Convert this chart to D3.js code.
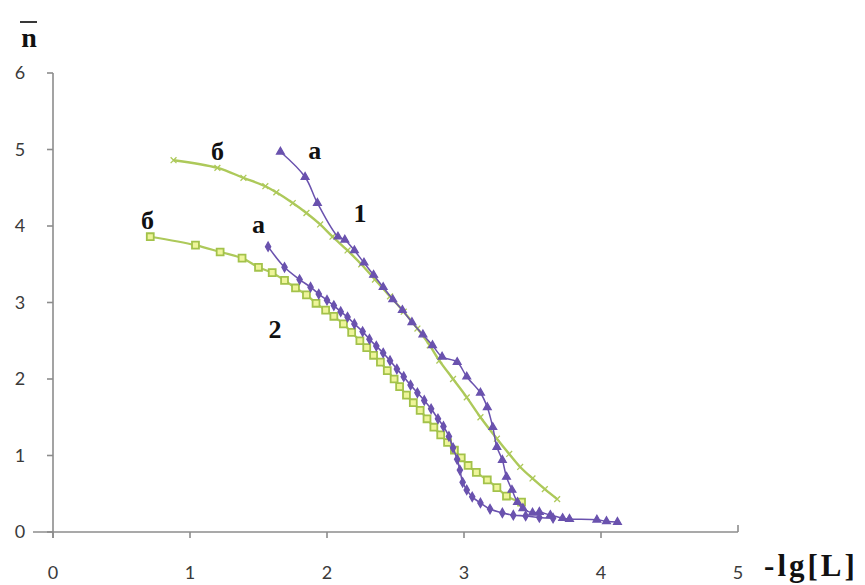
<!DOCTYPE html>
<html>
<head>
<meta charset="utf-8">
<script src="https://cdn.jsdelivr.net/npm/d3@7"></script>
<style>
  html, body { margin: 0; padding: 0; background: #fff; }
  .lbl { font-family: "Liberation Serif", "DejaVu Serif", serif; font-weight: bold; fill: #111; }
  .tk { font-family: Lato, "Open Sans", sans-serif; font-size: 18px; fill: #3a3a3a; }
</style>
</head>
<body>
<div id="graph"></div>
<script>
'use strict';

// curve 1, series a (purple, triangles)
var x1a = [1.66, 1.84, 1.93, 2.08, 2.13, 2.20, 2.27, 2.34, 2.41, 2.48, 2.55, 2.62, 2.70, 2.77, 2.84,
  2.95, 3.02, 3.12, 3.17, 3.21, 3.24, 3.28, 3.31, 3.35, 3.39, 3.43, 3.50, 3.55, 3.63, 3.72, 3.77, 3.97, 4.04, 4.12];
var y1a = [4.97, 4.64, 4.30, 3.86, 3.82, 3.68, 3.52, 3.36, 3.20, 3.04, 2.90, 2.74, 2.58, 2.44, 2.29,
  2.22, 2.03, 1.82, 1.63, 1.37, 1.11, 0.94, 0.72, 0.55, 0.39, 0.31, 0.25, 0.26, 0.22, 0.18, 0.17, 0.16, 0.14, 0.13];

// curve 1, series б (green, crosses)
var x1b = [0.88, 1.20, 1.39, 1.55, 1.63, 1.75, 1.85, 1.95, 2.04, 2.15, 2.25, 2.35, 2.46, 2.56, 2.66,
  2.75, 2.82, 2.92, 3.02, 3.12, 3.24, 3.33, 3.41, 3.50, 3.59, 3.68];
var y1b = [4.86, 4.76, 4.63, 4.52, 4.44, 4.30, 4.17, 4.02, 3.86, 3.68, 3.50, 3.30, 3.08, 2.88, 2.66,
  2.44, 2.24, 2.00, 1.76, 1.50, 1.22, 1.02, 0.85, 0.70, 0.56, 0.43];

// curve 2, series a (purple, small diamonds)
var x2a = [1.57, 1.69, 1.80, 1.88, 1.94, 2.00, 2.05, 2.10, 2.15, 2.20, 2.26, 2.31, 2.36, 2.41, 2.46,
  2.51, 2.56, 2.61, 2.66, 2.71, 2.76, 2.81, 2.85, 2.89, 2.92, 2.95, 2.97, 2.99, 3.02, 3.06, 3.12,
  3.19, 3.28, 3.36, 3.45, 3.55, 3.65];
var y2a = [3.73, 3.46, 3.30, 3.20, 3.11, 3.03, 2.96, 2.88, 2.81, 2.72, 2.62, 2.52, 2.43, 2.34, 2.24,
  2.13, 2.03, 1.92, 1.82, 1.72, 1.61, 1.48, 1.38, 1.25, 1.10, 0.95, 0.81, 0.65, 0.55, 0.46, 0.38,
  0.30, 0.25, 0.22, 0.21, 0.19, 0.18];

// curve 2, series б (green, squares)
var x2b = [0.71, 1.04, 1.22, 1.38, 1.50, 1.60, 1.69, 1.77, 1.85, 1.92, 1.99, 2.05, 2.12, 2.18, 2.24,
  2.29, 2.34, 2.39, 2.44, 2.49, 2.53, 2.58, 2.63, 2.68, 2.73, 2.78, 2.83, 2.88, 2.93, 2.98, 3.03,
  3.09, 3.17, 3.24, 3.31, 3.42];
var y2b = [3.86, 3.75, 3.66, 3.58, 3.46, 3.39, 3.29, 3.19, 3.10, 2.99, 2.90, 2.82, 2.72, 2.61, 2.50,
  2.41, 2.31, 2.22, 2.11, 2.00, 1.90, 1.79, 1.69, 1.59, 1.48, 1.37, 1.27, 1.17, 1.07, 0.97, 0.87,
  0.78, 0.68, 0.58, 0.47, 0.39];

var xTicks = [0, 1, 2, 3, 4, 5];
var yTicks = [0, 1, 2, 3, 4, 5, 6];

// curve labels, in data units
var labels = [
  { t: 'б', x: 1.2, y: 4.98 },
  { t: 'а', x: 1.91, y: 5.0 },
  { t: '1', x: 2.24, y: 4.17 },
  { t: 'б', x: 0.69, y: 4.08 },
  { t: 'а', x: 1.50, y: 4.03 },
  { t: '2', x: 1.62, y: 2.65 }
];

var W = 865, H = 585;
var padl = 53, padt = 73, plotW = 685, plotH = 459;

var x = d3.scaleLinear().domain([0, 5]).range([0, plotW]),
    y = d3.scaleLinear().domain([0, 6]).range([plotH, 0]);

var svg = d3.select('#graph')
  .append('svg')
  .attr('width', W)
  .attr('height', H);

var vis = svg.append('g')
  .attr('transform', 'translate(' + padl + ',' + padt + ')');

// axes (drawn by hand from the scales)
var axisColor = '#8c8c8c';
var ax = vis.append('g').attr('class', 'axis');

ax.append('line')
  .attr('x1', -20).attr('x2', x(5))
  .attr('y1', y(0)).attr('y2', y(0))
  .attr('stroke', axisColor).attr('stroke-width', 1.6);
ax.append('line')
  .attr('x1', 0).attr('x2', 0)
  .attr('y1', y(6)).attr('y2', y(0) + 6)
  .attr('stroke', axisColor).attr('stroke-width', 1.6);

ax.selectAll('line.yt')
  .data(yTicks)
  .enter().append('line')
  .attr('class', 'yt')
  .attr('x1', -6).attr('x2', 0)
  .attr('y1', function (d) { return y(d); })
  .attr('y2', function (d) { return y(d); })
  .attr('stroke', axisColor).attr('stroke-width', 1.6);

ax.selectAll('line.xt')
  .data(xTicks)
  .enter().append('line')
  .attr('class', 'xt')
  .attr('x1', function (d) { return x(d); })
  .attr('x2', function (d) { return x(d); })
  .attr('y1', y(0))
  .attr('y2', function (d) { return d === 5 ? y(0) - 7 : y(0) + 6; })
  .attr('stroke', axisColor).attr('stroke-width', 1.6);

ax.selectAll('text.ylab')
  .data(yTicks)
  .enter().append('text')
  .attr('class', 'tk ylab')
  .attr('x', -33)
  .attr('y', function (d) { return y(d); })
  .attr('dy', '0.35em')
  .attr('text-anchor', 'middle')
  .text(function (d) { return d; });

ax.selectAll('text.xlab')
  .data(xTicks)
  .enter().append('text')
  .attr('class', 'tk xlab')
  .attr('x', function (d) { return x(d); })
  .attr('y', y(0) + 41)
  .attr('dy', '0.35em')
  .attr('text-anchor', 'middle')
  .text(function (d) { return d; });

function pts(xs, ys) { return xs.map(function (v, i) { return [v, ys[i]]; }); }

var line = d3.line()
  .x(function (d) { return x(d[0]); })
  .y(function (d) { return y(d[1]); })
  .curve(d3.curveCatmullRom.alpha(0.5));

var purple = '#6a52ae', green = '#adc95a';

var series = [
  { data: pts(x1b, y1b), color: green, width: 2.4, marker: 'cross' },
  { data: pts(x2b, y2b), color: green, width: 2.2, marker: 'square' },
  { data: pts(x2a, y2a), color: purple, width: 1.6, marker: 'diamond' },
  { data: pts(x1a, y1a), color: purple, width: 1.5, marker: 'triangle' }
];

var symbolType = {
  cross: d3.symbolX,
  square: d3.symbolSquare,
  diamond: d3.symbolDiamond,
  triangle: d3.symbolTriangle
};
var symbolSize = { cross: 24, square: 48, diamond: 24, triangle: 26 };

series.forEach(function (s) {
  var g = vis.append('g');
  g.append('path')
    .datum(s.data)
    .attr('fill', 'none')
    .attr('stroke', s.color)
    .attr('stroke-width', s.width)
    .attr('d', line);

  g.selectAll('path.m')
    .data(s.data)
    .enter().append('path')
    .attr('class', 'm')
    .attr('transform', function (d) { return 'translate(' + x(d[0]) + ',' + y(d[1]) + ')'; })
    .attr('d', d3.symbol().type(symbolType[s.marker]).size(symbolSize[s.marker]))
    .attr('fill', s.marker === 'square' ? '#eef59a' : (s.marker === 'cross' ? 'none' : s.color))
    .attr('stroke', s.marker === 'square' ? '#a3c24a' : s.color)
    .attr('stroke-width', s.marker === 'square' ? 1.8 : 1.3);
});

// curve labels
vis.selectAll('text.lbl')
  .data(labels)
  .enter().append('text')
  .attr('class', 'lbl')
  .attr('x', function (d) { return x(d.x); })
  .attr('y', function (d) { return y(d.y); })
  .attr('text-anchor', 'middle')
  .attr('dy', '0.35em')
  .style('font-size', '26px')
  .text(function (d) { return d.t; });

// axis titles
svg.append('text')
  .attr('class', 'lbl')
  .attr('x', 29)
  .attr('y', 47)
  .attr('text-anchor', 'middle')
  .style('font-size', '28px')
  .text('n');
svg.append('line')
  .attr('x1', 20).attr('x2', 37)
  .attr('y1', 22).attr('y2', 22)
  .attr('stroke', '#222').attr('stroke-width', 1.8);

svg.append('text')
  .attr('class', 'lbl')
  .attr('x', 811)
  .attr('y', 576)
  .attr('text-anchor', 'middle')
  .style('font-size', '31px')
  .style('letter-spacing', '3px')
  .text('-lg[L]');
</script>
</body>
</html>
